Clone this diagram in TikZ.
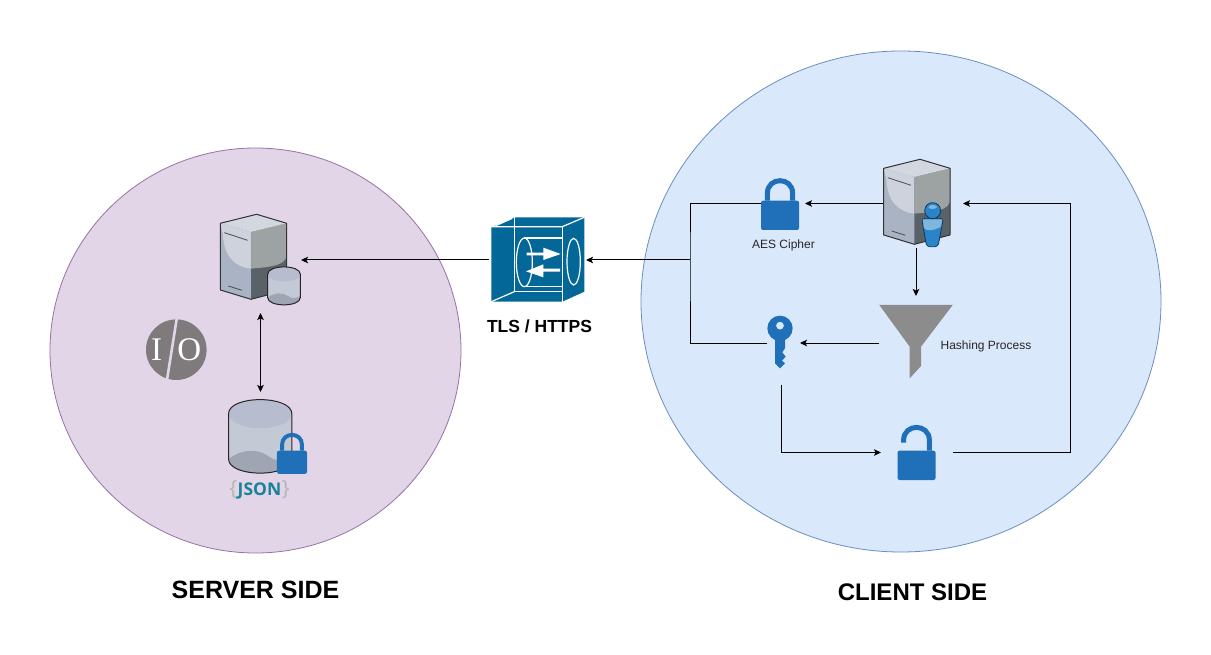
\documentclass[tikz,border=0pt]{standalone}
\usepackage{fontspec}
\setmainfont{Liberation Sans}
\newfontfamily\jsonfont{Open Sans}
\newfontfamily\iofont{Liberation Serif}
\usetikzlibrary{arrows.meta}
\definecolor{serverfill}{HTML}{E1D5E7}
\definecolor{serverline}{HTML}{9673A6}
\definecolor{clientfill}{HTML}{DAE8FC}
\definecolor{clientline}{HTML}{6C8EBF}
\definecolor{lockblue}{HTML}{1F70B8}
\definecolor{cubeblue}{HTML}{036897}
\definecolor{jsonteal}{HTML}{1A8199}
\definecolor{towertop}{HTML}{D3D7E0}
\definecolor{towerleft}{HTML}{A9B3C4}
\definecolor{towershine}{HTML}{CDD2DC}
\definecolor{towerright}{HTML}{9DA2A2}
\definecolor{towerdark}{HTML}{5A6269}
\definecolor{cylbody}{HTML}{C4CAD5}
\definecolor{cyltop}{HTML}{B7BDCF}
\definecolor{cylliquid}{HTML}{9FA5B3}
\definecolor{iogrey}{HTML}{7F7B7C}
\definecolor{funnelgrey}{HTML}{8C8C8C}
\definecolor{bracegrey}{HTML}{B4B4B4}
\definecolor{personblue}{HTML}{2A85C8}
\definecolor{personlight}{HTML}{7FB6DE}
\definecolor{persondark}{HTML}{10395C}
\tikzset{
  hotspot/.style={inner sep=0,outer sep=0,minimum width=#1},
  link/.style={line width=1pt,black},
  caption/.style={inner sep=0,font=\fontsize{12}{14}\selectfont,text=black!85},
  iotext/.style={inner sep=0,text=white,font=\iofont\fontsize{33}{35}\selectfont},
  cubeline/.style={color=white,line width=1.2pt},
  tower/.pic={
    \begin{scope}[scale=1/3]
    \fill[color=towerdark] (0,27) -- (109,0) -- (199,27) -- (199,227) -- (92,255) -- (0,227) -- cycle;
    \fill[color=towerleft] (0,27) -- (92,53) -- (92,255) -- (0,227) -- cycle;
    \fill[color=towershine] (0,27) -- (92,53) -- (92,163) .. controls (50,160) and (10,130) .. (8,60) -- cycle;
    \fill[color=towerright] (92,53) -- (199,27) -- (199,127) .. controls (190,150) and (169,157) .. (92,163) -- cycle;
    \fill[color=towertop] (0,27) -- (109,0) -- (199,27) -- (92,53) -- cycle;
    \draw[color=black!70,line width=0.8pt] (12,55) -- (82,78);
    \draw[color=black!70,line width=0.8pt] (24,215) -- (65,228);
    \draw[color=black!80,line width=1pt,line join=round] (0,27) -- (109,0) -- (199,27) -- (199,227) -- (92,255) -- (0,227) -- cycle;
    \end{scope}
  },
  pics/drum/.style={code={
    \begin{scope}[scale=#1]
    \fill[color=cylbody] (-95,-67) -- (-95,68) .. controls (-95,125) and (95,125) .. (95,68) -- (95,-67) .. controls (95,-124) and (-95,-124) .. cycle;
    \fill[color=cylliquid] (-94,68) .. controls (-60,40) and (-10,35) .. (25,60) .. controls (50,80) and (75,72) .. (95,58) -- (95,68) .. controls (95,125) and (-95,125) .. (-95,68) -- cycle;
    \fill[color=cyltop] (0,-67) ellipse[x radius=95,y radius=43];
    \draw[color=black!85,line width=1pt] (-95,-67) -- (-95,68) .. controls (-95,125) and (95,125) .. (95,68) -- (95,-67) .. controls (95,-124) and (-95,-124) .. cycle;
    \end{scope}
  }},
  pics/closedlock/.style={code={
    \begin{scope}[scale=#1]
    \draw[color=lockblue,line width=#1*5pt] (-12.6,0) -- (-12.6,-7.4) .. controls (-12.6,-24.2) and (12.6,-24.2) .. (12.6,-7.4) -- (12.6,0);
    \fill[color=lockblue,rounded corners=2] (-19,0) rectangle (19,29.3);
    \end{scope}
  }},
  openlock/.pic={
    \draw[color=lockblue,line width=5pt] (-12.9,-8) -- (-12.9,-10.4) .. controls (-12.9,-27.6) and (12.9,-27.6) .. (12.9,-10.4) -- (12.9,0);
    \fill[color=lockblue,rounded corners=2] (-19,0) rectangle (19,29.3);
  }
}
\begin{document}
\begin{tikzpicture}[x=1pt,y=-1pt,>={Stealth[length=7pt,width=6.5pt,inset=1.5pt]}]
\useasboundingbox (0,0) rectangle (1211,655);
\fill[color=white] (0,0) rectangle (1211,655);
\filldraw[fill=serverfill,draw=serverline,line width=0.8pt] (255.5,350.5) ellipse[x radius=205.5,y radius=202.5];
\filldraw[fill=clientfill,draw=clientline,line width=0.8pt] (901,301.5) ellipse[x radius=260,y radius=250.5];
% anchors of the icons
\node[hotspot=81,minimum height=106] (dbserver) at (260.5,260) {};
\node[hotspot=81,minimum height=86] (jsonstore) at (260.5,435) {};
\node[hotspot=97,minimum height=90] (tlscube) at (537.5,260) {};
\node[hotspot=44,minimum height=60] (aeslock) at (783,203.5) {};
\node[hotspot=80,minimum height=89] (clientpc) at (923,203.5) {};
\node[hotspot=74,minimum height=94] (funnel) at (916,343) {};
\node[hotspot=33,minimum height=84] (hashkey) at (783.5,343) {};
\node[hotspot=72,minimum height=60] (plainlock) at (917,452.5) {};
\coordinate (bus) at (690,260);
\coordinate (rail) at (1070,330);
% server side
\pic at (220.3,214.3) {tower};
\pic at (284,285.8) {drum=0.172};
\pic at (260.2,436.2) {drum=1/3};
\pic at (292,450.7) {closedlock=0.79};
\fill[color=iogrey] (176.3,349.7) circle[radius=30.3];
\draw[color=serverfill,line width=2.6pt] (177,317) -- (166.5,383);
\node[iotext] (ioi) at (156.7,350) {I};
\node[iotext] (ioo) at (189.3,350) {O};
\node[inner sep=0,font=\jsonfont\bfseries\fontsize{17.5}{20}\selectfont] (jsontext) at (259.5,490) {\textcolor{bracegrey}{\fontsize{21}{20}\selectfont\mdseries\{}\kern0.5pt\textcolor{jsonteal}{JSON}\kern0.5pt\textcolor{bracegrey}{\fontsize{21}{20}\selectfont\mdseries\}}};
% the tunnel
\begin{scope}[shift={(485,210)},scale=1/3]
\fill[color=cubeblue] (19,52) -- (88,22) -- (298,22) -- (298,245) -- (232,275) -- (19,275) -- cycle;
\draw[cubeline] (88,22) -- (88,245) -- (232,245);
\draw[cubeline] (19,275) -- (88,245);
\draw[cubeline] (19,50) -- (232,50) -- (298,22);
\draw[cubeline] (232,50) -- (232,275);
\draw[cubeline] (32,47) -- (82,25);
\draw[cubeline] (118,157) ellipse[x radius=24,y radius=73];
\draw[cubeline] (266,155) ellipse[x radius=20,y radius=70];
\draw[cubeline] (118,84) -- (232,84);
\draw[cubeline] (118,230) -- (232,230);
\fill[color=white] (125,128) -- (175,128) -- (175,113) -- (227,132) -- (175,150) -- (175,136) -- (125,136) -- cycle;
\fill[color=white] (225,176) -- (175,176) -- (175,163) -- (123,184) -- (175,202) -- (175,185) -- (225,185) -- cycle;
\end{scope}
\node[inner sep=0,font=\bfseries\fontsize{17.5}{20}\selectfont] (tlstext) at (539.5,326.5) {TLS / HTTPS};
% client side
\pic at (883.7,159.3) {tower};
\begin{scope}[shift={(910,195)},scale=1/3]
\filldraw[fill=personblue,draw=persondark,line width=0.8pt,rounded corners=3] (35,70) -- (100,70) -- (84,155) -- (50,155) -- cycle;
\fill[color=personlight] (38,73) -- (97,73) -- (93,95) .. controls (70,108) and (50,108) .. (42,100) -- cycle;
\filldraw[fill=personblue,draw=persondark,line width=0.8pt] (68,47) circle[radius=24];
\fill[color=personlight] (68,36) ellipse[x radius=13,y radius=6];
\end{scope}
\pic at (780,200.7) {closedlock=1};
\pic at (916.5,450.7) {openlock};
\fill[color=funnelgrey] (879.3,305) -- (952.7,305) -- (921,346.7) -- (921,366) -- (909.7,378.3) -- (909.7,346.7) -- cycle;
\begin{scope}[shift={(750,295)},scale=1/3]
\fill[color=lockblue,even odd rule] (90,100) circle[radius=38] (90,92) circle[radius=12];
\fill[color=lockblue] (75,125) -- (75,205) -- (90,220) -- (105,205) -- (96,197) -- (107,185) -- (97,172) -- (105,160) -- (105,125) -- cycle;
\end{scope}
\node[caption] (aestext) at (783.5,245) {AES Cipher};
\node[caption] (hashtext) at (986,346) {Hashing Process};
\node[inner sep=0,font=\bfseries\fontsize{25}{28}\selectfont] (servertitle) at (255.5,590) {SERVER SIDE};
\node[inner sep=0,font=\bfseries\fontsize{24}{28}\selectfont] (clienttitle) at (912.5,592) {CLIENT SIDE};
% connectors
\draw[link,->] (tlscube.west) -- (dbserver.east);
\draw[link,<->] (dbserver.south) -- (jsonstore.north);
\draw[link,->] (bus) -- (tlscube.east);
\draw[link] (aeslock.west) -| (bus) |- (hashkey.west);
\draw[link,->] (clientpc.west) -- (aeslock.east);
\draw[link,->] (funnel.north |- clientpc.south) -- (funnel.north);
\draw[link,->] (funnel.west) -- (hashkey.east);
\draw[link,->] ([xshift=-2.5]hashkey.south) |- (plainlock.west);
\draw[link,->] (plainlock.east) -| (rail) |- (clientpc.east);
\end{tikzpicture}
\end{document}
